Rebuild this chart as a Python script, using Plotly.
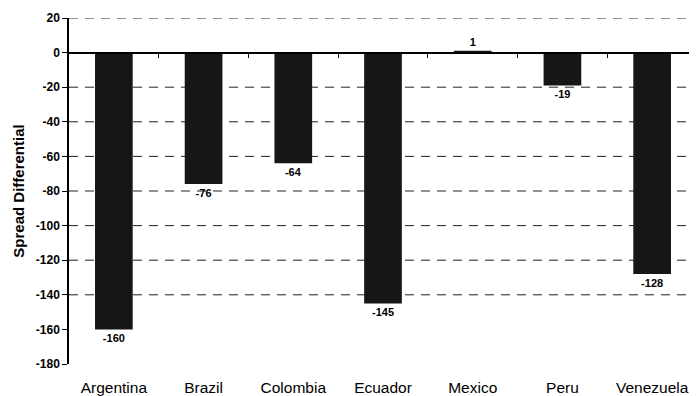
import plotly.graph_objects as go

countries = ["Argentina", "Brazil", "Colombia", "Ecuador", "Mexico", "Peru", "Venezuela"]
spread = [-160, -76, -64, -145, 1, -19, -128]
y_ticks = [20, 0, -20, -40, -60, -80, -100, -120, -140, -160, -180]
grid_vals = [20, -20, -40, -60, -80, -100, -120, -140]

xs = list(range(len(countries)))
FONT = "Arial, Liberation Sans, Helvetica, sans-serif"

fig = go.Figure()
fig.add_trace(go.Bar(
    x=xs, y=spread, width=0.42,
    marker=dict(color="#161616", line=dict(width=0)),
    text=[str(v) for v in spread], textposition="outside",
    textfont=dict(family=FONT, size=11, color="#000"),
    texttemplate="<b>%{text}</b>", cliponaxis=False,
))
fig.add_trace(go.Scatter(x=[-0.5, len(countries) - 0.5], y=[0, 0], mode="lines",
                         line=dict(width=0), xaxis="x2", hoverinfo="skip", showlegend=False))

for g in grid_vals:
    fig.add_hline(y=g, line=dict(color="#222", width=1, dash="9px,7px"), layer="below")

# page body has an 8px default margin; figure sized to fill the 697x396 window
fig.update_layout(
    width=689, height=388,
    margin=dict(l=61, r=0, t=10, b=32, autoexpand=False),
    paper_bgcolor="white", plot_bgcolor="white",
    showlegend=False,
    font=dict(family=FONT, color="#000"),
    xaxis=dict(
        range=[-0.5, len(countries) - 0.5],
        tickvals=xs, ticktext=countries,
        tickfont=dict(size=15.5, family=FONT),
        showgrid=False, zeroline=False, showline=False, ticks="",
        ticklabelstandoff=12, automargin=False,
    ),
    xaxis2=dict(
        range=[-0.5, len(countries) - 0.5],
        overlaying="x", anchor="free", position=0.9,
        showline=True, linecolor="#000", linewidth=1.5,
        tickvals=[i + 0.5 for i in xs[:-1]], ticks="outside", ticklen=5, tickcolor="#000",
        showticklabels=False, showgrid=False, zeroline=False,
    ),
    yaxis=dict(
        range=[-180, 20], tickvals=y_ticks,
        ticktext=[f"<b>{v}</b>" for v in y_ticks],
        tickfont=dict(size=12, family=FONT),
        showgrid=False, zeroline=False, automargin=False,
        showline=True, linecolor="#000", linewidth=1.5,
        ticks="outside", ticklen=5, tickcolor="#000",
        title=dict(text="<b>Spread Differential</b>", font=dict(size=15), standoff=8),
    ),
)

fig.write_html("out.html")
